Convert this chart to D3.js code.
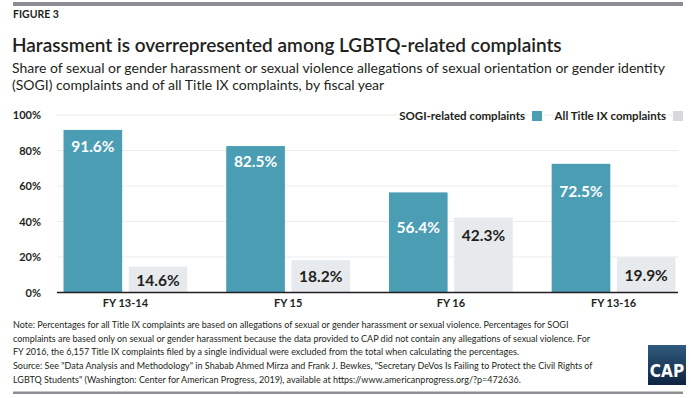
<!DOCTYPE html>
<html>
<head>
<meta charset="utf-8">
<script src="https://cdn.jsdelivr.net/npm/d3@7"></script>
<style>
  html, body { margin: 0; padding: 0; background: #fff; }
  svg { display: block; font-family: Lato, 'Open Sans', sans-serif; }
</style>
</head>
<body>
<div id="chart"></div>
<script>
const years = ['FY 13-14', 'FY 15', 'FY 16', 'FY 13-16'];
const seriesNames = ['SOGI-related complaints', 'All Title IX complaints'];
const sogiValues = [91.6, 82.5, 56.4, 72.5];
const titleIXValues = [14.6, 18.2, 42.3, 19.9];
const yTicks = [0, 20, 40, 60, 80, 100];

const noteLines = [
  'Note: Percentages for all Title IX complaints are based on allegations of sexual or gender harassment or sexual violence. Percentages for SOGI',
  'complaints are based only on sexual or gender harassment because the data provided to CAP did not contain any allegations of sexual violence. For',
  'FY 2016, the 6,157 Title IX complaints filed by a single individual were excluded from the total when calculating the percentages.',
  'Source: See "Data Analysis and Methodology" in Shabab Ahmed Mirza and Frank J. Bewkes, "Secretary DeVos Is Failing to Protect the Civil Rights of',
  'LGBTQ Students" (Washington: Center for American Progress, 2019), available at https://www.americanprogress.org/?p=472636.'
];

const width = 694, height = 398;
const colors = { 'SOGI-related complaints': '#4a9db3', 'All Title IX complaints': '#e7eaed' };
const labelColors = { 'SOGI-related complaints': '#ffffff', 'All Title IX complaints': '#231f20' };
// how far below the bar top each value label sits (per series, per year)
const labelDrop = [[22, 21, 41, 33], [19, 22, 24, 24]];

const rows = years.map((yr, i) => ({ year: yr, values: [sogiValues[i], titleIXValues[i]] }));

const svg = d3.select('#chart').append('svg')
  .attr('width', width)
  .attr('height', height);

// rules top and bottom
svg.append('rect').attr('x', 13).attr('y', 2).attr('width', 670).attr('height', 4).attr('fill', '#8d8e93');
svg.append('rect').attr('x', 13).attr('y', 391.5).attr('width', 670).attr('height', 2.5).attr('fill', '#8d8e93');

svg.append('text')
  .attr('x', 13).attr('y', 18)
  .attr('font-size', 10.5).attr('font-weight', 700).attr('fill', '#231f20')
  .text('FIGURE 3');

svg.append('text')
  .attr('x', 12).attr('y', 52)
  .attr('font-size', 19).attr('font-weight', 600).attr('fill', '#231f20')
  .text('Harassment is overrepresented among LGBTQ-related complaints');

const subtitle = ['Share of sexual or gender harassment or sexual violence allegations of sexual orientation or gender identity',
  '(SOGI) complaints and of all Title IX complaints, by fiscal year'];
svg.append('g').selectAll('text')
  .data(subtitle)
  .join('text')
  .attr('x', 12)
  .attr('y', (d, i) => 73 + i * 17)
  .attr('font-size', 14).attr('fill', '#231f20')
  .text(d => d);

const y = d3.scaleLinear().domain([0, 100]).range([292.5, 115]);

const x0 = d3.scaleBand().domain(years).range([44, 695]).paddingInner(0.239).paddingOuter(0.12);
const x1 = d3.scaleBand().domain(seriesNames).range([0, x0.bandwidth()]).paddingInner(0.1);

// gridlines
svg.append('g').selectAll('line')
  .data(yTicks.filter(t => t > 0))
  .join('line')
  .attr('x1', 57).attr('x2', 678)
  .attr('y1', d => y(d)).attr('y2', d => y(d))
  .attr('stroke', '#ececec').attr('stroke-width', 1);

// y axis labels
const yAxis = svg.append('g')
  .attr('transform', 'translate(41,0)')
  .call(d3.axisLeft(y).tickValues(yTicks).tickFormat(d => d + '%').tickSize(0).tickPadding(0));
yAxis.select('.domain').remove();
yAxis.selectAll('text')
  .attr('font-family', 'Lato, sans-serif')
  .attr('font-size', 11).attr('font-weight', 700).attr('fill', '#231f20');

// bars
const groups = svg.append('g').selectAll('g')
  .data(rows)
  .join('g')
  .attr('transform', d => `translate(${x0(d.year)},0)`);

groups.selectAll('rect')
  .data(d => d.values.map((v, k) => ({ series: seriesNames[k], value: v })))
  .join('rect')
  .attr('x', d => x1(d.series))
  .attr('y', d => y(d.value))
  .attr('width', x1.bandwidth())
  .attr('height', d => y(0) - y(d.value))
  .attr('fill', d => colors[d.series]);

groups.selectAll('text.value')
  .data((d, i) => d.values.map((v, k) => ({ series: seriesNames[k], value: v, drop: labelDrop[k][i] })))
  .join('text')
  .attr('class', 'value')
  .attr('x', d => x1(d.series) + x1.bandwidth() / 2)
  .attr('y', d => y(d.value) + d.drop)
  .attr('text-anchor', 'middle')
  .attr('font-size', 15.5).attr('font-weight', 700)
  .attr('fill', d => labelColors[d.series])
  .text(d => d.value.toFixed(1) + '%');

// baseline
svg.append('line')
  .attr('x1', 57).attr('x2', 678)
  .attr('y1', y(0)).attr('y2', y(0))
  .attr('stroke', '#231f20').attr('stroke-width', 1.5);

// x axis labels
const xAxis = svg.append('g')
  .attr('transform', `translate(0,${y(0)})`)
  .call(d3.axisBottom(x0).tickSize(0).tickPadding(7));
xAxis.select('.domain').remove();
xAxis.selectAll('text')
  .attr('font-family', 'Lato, sans-serif')
  .attr('font-size', 11).attr('font-weight', 700).attr('fill', '#231f20');

// legend, right aligned
const legend = svg.append('g').attr('font-size', 11.5).attr('font-weight', 700).attr('fill', '#231f20');
const legendEnds = [542, 683];
seriesNames.forEach((name, k) => {
  legend.append('rect')
    .attr('x', legendEnds[k] - 10).attr('y', 111)
    .attr('width', 10).attr('height', 10)
    .attr('fill', k === 0 ? colors[name] : '#d7d9dc');
  legend.append('text')
    .attr('x', legendEnds[k] - 17).attr('y', 120)
    .attr('text-anchor', 'end')
    .text(name);
});

// notes
svg.append('g').selectAll('text')
  .data(noteLines)
  .join('text')
  .attr('x', 13)
  .attr('y', (d, i) => 328 + i * 13.7)
  .attr('font-size', 9).attr('fill', '#231f20')
  .text(d => d);

// CAP logo
const grad = svg.append('defs').append('linearGradient')
  .attr('id', 'capGrad').attr('x1', 0).attr('y1', 0).attr('x2', 0).attr('y2', 1);
grad.append('stop').attr('offset', '0%').attr('stop-color', '#2f5a7e');
grad.append('stop').attr('offset', '100%').attr('stop-color', '#0e2440');
svg.append('rect').attr('x', 648).attr('y', 345).attr('width', 38).attr('height', 40).attr('fill', 'url(#capGrad)');
svg.append('text')
  .attr('x', 667).attr('y', 377)
  .attr('text-anchor', 'middle')
  .attr('font-family', "'Liberation Sans Narrow', 'DejaVu Sans Condensed', sans-serif")
  .attr('font-size', 17).attr('font-weight', 700).attr('fill', '#fff')
  .text('CAP');
</script>
</body>
</html>
